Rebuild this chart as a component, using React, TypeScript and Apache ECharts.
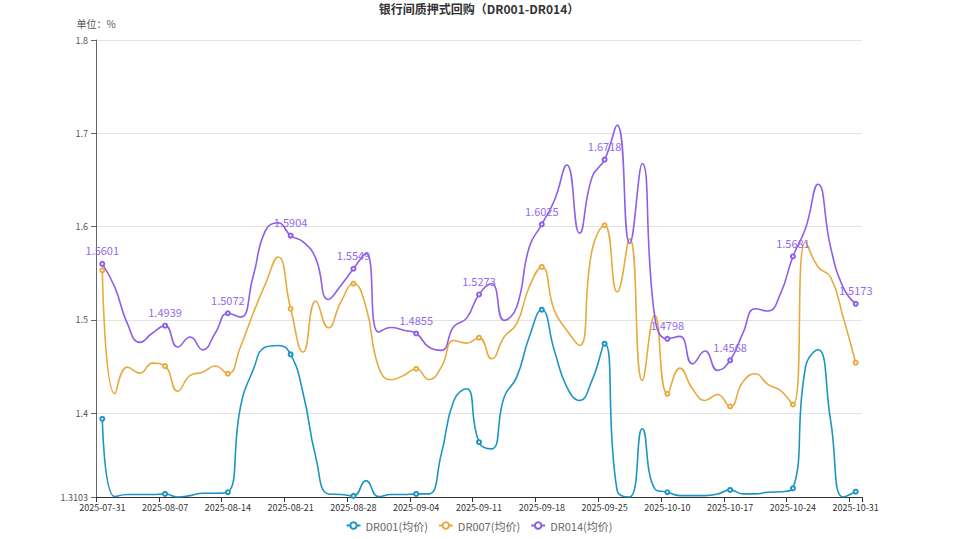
import React, { useEffect, useRef } from "react";
import * as echarts from "echarts";

const TITLE = "银行间质押式回购（DR001-DR014）";
const UNIT = "单位：%";

const dates = [
  "2025-07-31", "2025-08-01", "2025-08-04", "2025-08-05", "2025-08-06", "2025-08-07",
  "2025-08-08", "2025-08-11", "2025-08-12", "2025-08-13", "2025-08-14",
  "2025-08-15", "2025-08-18", "2025-08-19", "2025-08-20", "2025-08-21",
  "2025-08-22", "2025-08-25", "2025-08-26", "2025-08-27", "2025-08-28",
  "2025-08-29", "2025-09-01", "2025-09-02", "2025-09-03", "2025-09-04",
  "2025-09-05", "2025-09-08", "2025-09-09", "2025-09-10", "2025-09-11",
  "2025-09-12", "2025-09-15", "2025-09-16", "2025-09-17", "2025-09-18",
  "2025-09-19", "2025-09-22", "2025-09-23", "2025-09-24", "2025-09-25",
  "2025-09-26", "2025-09-29", "2025-09-30", "2025-10-09", "2025-10-10",
  "2025-10-13", "2025-10-14", "2025-10-15", "2025-10-16", "2025-10-17",
  "2025-10-20", "2025-10-21", "2025-10-22", "2025-10-23", "2025-10-24",
  "2025-10-27", "2025-10-28", "2025-10-29", "2025-10-30", "2025-10-31",
];

const dr001 = [
  1.3941, 1.3107, 1.3129, 1.3129, 1.3130, 1.3136, 1.3103, 1.3118, 1.3143, 1.3143, 1.3154,
  1.4066, 1.4459, 1.4710, 1.4727, 1.4631, 1.4209, 1.3530, 1.3136, 1.3129, 1.3115,
  1.3279, 1.3107, 1.3129, 1.3129, 1.3136, 1.3136, 1.3565, 1.4137, 1.4263, 1.3690,
  1.3619, 1.4173, 1.4387, 1.4817, 1.5110, 1.4674, 1.4280, 1.4137, 1.4352, 1.4746,
  1.3172, 1.3103, 1.3834, 1.3190, 1.3154, 1.3118, 1.3118, 1.3118, 1.3136, 1.3179,
  1.3136, 1.3136, 1.3154, 1.3160, 1.3196, 1.4495, 1.4681, 1.3923, 1.3103, 1.3160,
];

const dr007 = [
  1.5532, 1.4209, 1.4495, 1.4430, 1.4538, 1.4506, 1.4237, 1.4406, 1.4441, 1.4506, 1.4424,
  1.4710, 1.5067, 1.5390, 1.5675, 1.5120, 1.4656, 1.5203, 1.4917, 1.5192, 1.5390,
  1.5139, 1.4495, 1.4360, 1.4406, 1.4477, 1.4360, 1.4495, 1.4780, 1.4752, 1.4810,
  1.4584, 1.4817, 1.4960, 1.5353, 1.5568, 1.5103, 1.4888, 1.4727, 1.5747, 1.6015,
  1.5300, 1.5872, 1.4352, 1.5050, 1.4209, 1.4484, 1.4263, 1.4137, 1.4202, 1.4073,
  1.4334, 1.4424, 1.4309, 1.4245, 1.4094, 1.5836, 1.5568, 1.5460, 1.5030, 1.4542,
];

const dr014 = [
  1.5601, 1.5350, 1.4960, 1.4760, 1.4860, 1.4939, 1.4710, 1.4817, 1.4680, 1.4860, 1.5072,
  1.5030, 1.5460, 1.5960, 1.6040, 1.5904, 1.5836, 1.5660, 1.5220, 1.5370, 1.5549,
  1.5714, 1.4870, 1.4920, 1.4890, 1.4855, 1.4710, 1.4674, 1.4930, 1.5017, 1.5273,
  1.5390, 1.4996, 1.5140, 1.5780, 1.6025, 1.6280, 1.6660, 1.5930, 1.6530, 1.6718,
  1.7088, 1.5820, 1.6677, 1.5030, 1.4798, 1.4824, 1.4530, 1.4667, 1.4460, 1.4568,
  1.4853, 1.5120, 1.5096, 1.5280, 1.5681, 1.5980, 1.6455, 1.5780, 1.5350, 1.5173,
];

const seriesNames = ["DR001(均价)", "DR007(均价)", "DR014(均价)"];
const colors = ["#1c95c4", "#e8aa3e", "#8e5ee8"];

const FONT = "'Noto Sans CJK SC', 'Noto Sans', sans-serif";

export default function App() {
  const ref = useRef<HTMLDivElement>(null);

  useEffect(() => {
    if (!ref.current) return;
    const chart = echarts.init(ref.current, null, { renderer: "svg" });
    const values = [dr001, dr007, dr014];
    chart.setOption({
      animation: false,
      color: colors,
      textStyle: { fontFamily: FONT },
      title: {
        text: TITLE,
        left: "center",
        top: -3,
        textStyle: { fontSize: 12, fontWeight: "bold", color: "#333", fontFamily: FONT },
      },
      legend: {
        bottom: 3,
        left: "center",
        itemWidth: 14,
        itemHeight: 8,
        itemGap: 10,
        textStyle: { fontSize: 11, color: "#666", fontFamily: FONT },
        data: seriesNames,
      },
      grid: { left: 96, right: 96, top: 40, bottom: 42, containLabel: false },
      xAxis: {
        type: "category",
        data: dates,
        boundaryGap: true,
        axisLine: { show: true, lineStyle: { color: "#333" } },
        axisTick: { show: true, interval: 4, lineStyle: { color: "#333" } },
        axisLabel: { interval: 4, fontSize: 9, color: "#333", margin: 6, fontFamily: FONT },
        splitLine: { show: false },
      },
      yAxis: {
        type: "value",
        min: 1.3103,
        max: 1.8,
        name: UNIT,
        nameGap: 12,
        nameTextStyle: { fontSize: 10, color: "#555", fontFamily: FONT },
        axisLine: { show: true, lineStyle: { color: "#666" } },
        axisTick: { show: true, lineStyle: { color: "#666" } },
        axisLabel: { fontSize: 9, color: "#555", fontFamily: FONT },
        splitLine: { show: true, lineStyle: { color: "#e3e3e3" } },
      },
      series: seriesNames.map((name, k) => ({
        name,
        type: "line",
        data: values[k],
        smooth: true,
        symbol: "emptyCircle",
        symbolSize: 4,
        showSymbol: true,
        showAllSymbol: false,
        lineStyle: { width: 1.6, color: colors[k] },
        itemStyle: { color: colors[k], borderWidth: 1 },
        label: {
          show: k === 2,
          position: "top",
          fontSize: 11,
          color: "#9469ec",
          fontFamily: FONT,
        },
      })),
    });
    return () => chart.dispose();
  }, []);

  return (
    <div
      ref={ref}
      style={{ position: "absolute", left: 0, top: 0, width: 958, height: 539 }}
    />
  );
}
